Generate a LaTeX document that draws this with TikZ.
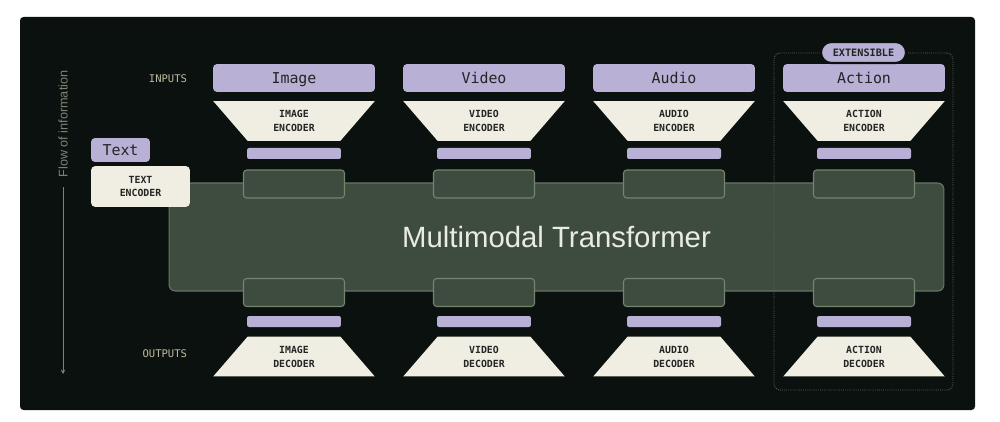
\documentclass[tikz,border=0pt]{standalone}
\usepackage{fontspec}
\setmainfont{Liberation Sans}
\newfontfamily\codefont{DejaVu Sans Mono}
\usetikzlibrary{shapes.geometric,arrows.meta}

\definecolor{panelbg}{HTML}{0B110E}
\definecolor{lavender}{HTML}{B8B1D5}
\definecolor{cream}{HTML}{F0EEE2}
\definecolor{tfgreen}{HTML}{3E4C3F}
\definecolor{tfedge}{HTML}{687766}
\definecolor{tokenedge}{HTML}{75846F}
\definecolor{tftext}{HTML}{E9ECE3}
\definecolor{labelgrey}{HTML}{BDBCA0}
\definecolor{flowgrey}{HTML}{7F8376}
\definecolor{dotgrey}{HTML}{5F655D}
\definecolor{darktext}{HTML}{242424}

\begin{document}
\begin{tikzpicture}[x=0.02cm, y=-0.02cm,
    every node/.style={inner sep=0pt, outer sep=0pt},
    head/.style={rectangle, rounded corners=2.3pt, fill=lavender, minimum width=3.24cm, minimum height=0.56cm, text height=6.2pt, text depth=0pt, text=darktext, font=\codefont\fontsize{8.5}{10}\selectfont},
    coder/.style={trapezium, trapezium angle=54, trapezium stretches=true, fill=cream, minimum width=3.24cm, minimum height=0.8cm, text=darktext, align=center, font=\codefont\bfseries\fontsize{5.6}{7.9}\selectfont},
    bar/.style={rectangle, rounded corners=1.2pt, fill=lavender, minimum width=1.88cm, minimum height=0.22cm},
    token/.style={rectangle, rounded corners=1.8pt, draw=tokenedge, line width=0.6pt, fill=tfgreen, minimum width=2.02cm, minimum height=0.56cm},
    side/.style={anchor=east, text=labelgrey, font=\codefont\fontsize{6}{7}\selectfont}]

    \fill[white] (0,0) rectangle (1000,422);
    \useasboundingbox (0,0) rectangle (1000,422);
    \fill[panelbg, rounded corners=2pt] (20,17) rectangle (975,410);

    \node[rectangle, rounded corners=3.5pt, draw=tfedge, line width=0.6pt, fill=tfgreen, minimum width=15.5cm, minimum height=2.16cm, text=tftext, font=\fontsize{16.7}{20}\selectfont] (tf) at (556.5,237) {Multimodal Transformer};

    \foreach \name/\word/\cap/\x in {img/Image/IMAGE/294, vid/Video/VIDEO/484, aud/Audio/AUDIO/674, act/Action/ACTION/864} {
      \node[head] (\name-in) at (\x,78) {\word};
      \node[coder, shape border rotate=180] (\name-enc) at (\x,121) {\cap\\ENCODER};
      \node[bar] (\name-inbar) at (\x,153.5) {};
      \node[token] (\name-intok) at (\x,184) {};
      \node[token] (\name-outtok) at (\x,292.5) {};
      \node[bar] (\name-outbar) at (\x,321.5) {};
      \node[coder] (\name-dec) at (\x,356.5) {\cap\\DECODER};
    }

    \node[head, minimum width=1.18cm, minimum height=0.48cm] (text-in) at (120.5,150) {Text};
    \node[rectangle, rounded corners=2.5pt, fill=cream, minimum width=1.98cm, minimum height=0.82cm, align=center, text=darktext, font=\codefont\bfseries\fontsize{5.6}{7.9}\selectfont] (text-enc) at (140.5,186.5) {TEXT\\ENCODER};

    \node[rectangle, rounded corners=3.5pt, draw=dotgrey, line width=0.5pt, dash pattern=on 0.5pt off 0.7pt, minimum width=3.58cm, minimum height=6.74cm] (ext) at (863.5,221.5) {};
    \node[rectangle, rounded corners=5.9pt, fill=lavender, draw=panelbg, line width=1.2pt, minimum width=1.7cm, minimum height=0.42cm, text=darktext, font=\codefont\bfseries\fontsize{5.8}{7}\selectfont] (ext-tag) at (863.5,52.5) {EXTENSIBLE};

    \node[side] (inputs) at (187,79) {INPUTS};
    \node[side] (outputs) at (187,354) {OUTPUTS};

    \node[rotate=90, text=flowgrey, font=\fontsize{7.2}{9}\selectfont] (flow) at (63,124) {Flow of information};
    \coordinate (flowend) at (63,374);
    \draw[flowgrey, line width=0.5pt, -{Stealth[length=2.5pt,width=2.5pt]}] ([yshift=-5.7pt]flow.west) -- (flowend);
\end{tikzpicture}
\end{document}
